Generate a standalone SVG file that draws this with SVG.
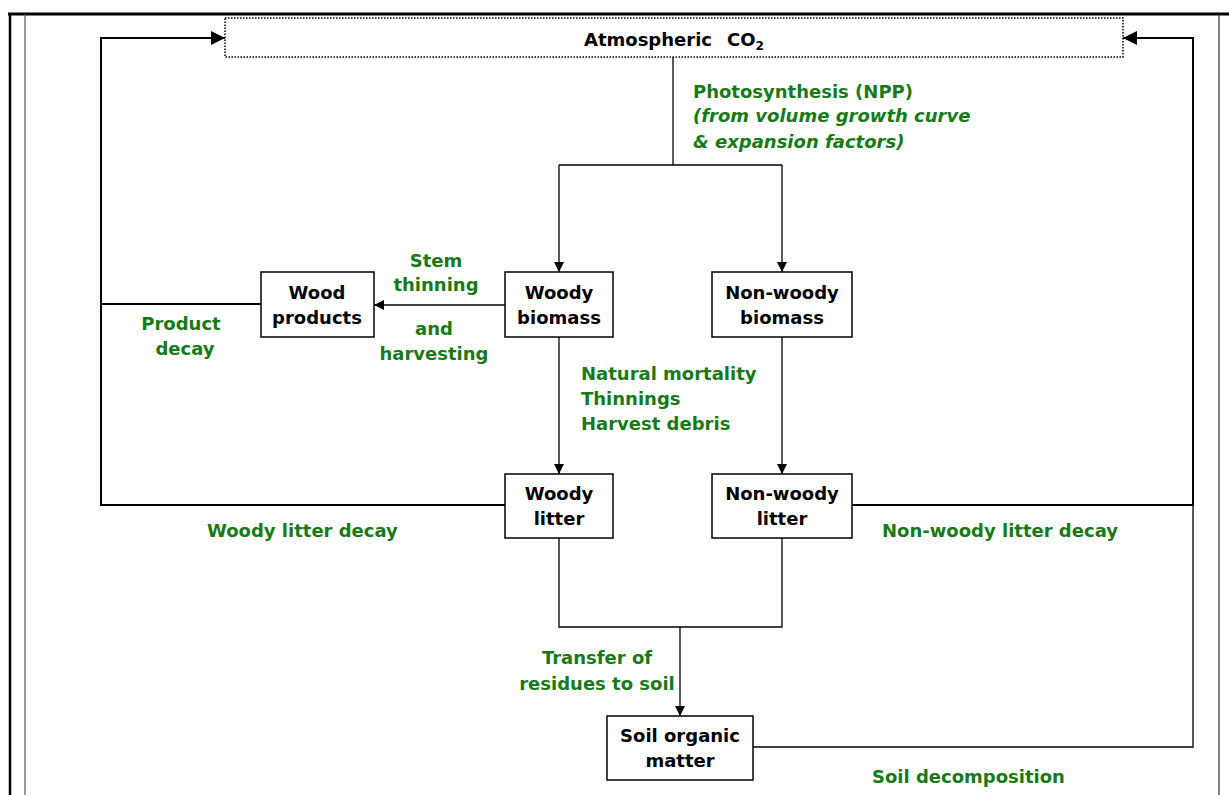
<svg xmlns="http://www.w3.org/2000/svg" width="1229" height="795" viewBox="0 0 1229 795">
<defs>
<marker id="ah" viewBox="0 0 10 10" refX="10" refY="5" markerWidth="10" markerHeight="10" markerUnits="userSpaceOnUse" orient="auto">
<path d="M0,0 L10,5 L0,10 z" fill="#000"/>
</marker>
<marker id="ahb" viewBox="0 0 14 14" refX="14" refY="7" markerWidth="14" markerHeight="14" markerUnits="userSpaceOnUse" orient="auto">
<path d="M0,0 L14,7 L0,14 z" fill="#000"/>
</marker>
</defs>
<style>
.box{fill:#fff;stroke:#000;stroke-width:1.5}
.t{font-family:"DejaVu Sans","Liberation Sans",sans-serif;font-weight:bold;font-size:18px;fill:#000}
.g{font-family:"DejaVu Sans","Liberation Sans",sans-serif;font-weight:bold;font-size:18px;fill:#177a17}
.c{text-anchor:middle}
.ln{fill:none;stroke:#000;stroke-width:1.3}
.lnb{fill:none;stroke:#000;stroke-width:2}
</style>
<rect width="1229" height="795" fill="#fff"/>
<g id="frame">
<line x1="8" y1="14" x2="1229" y2="14" stroke="#000" stroke-width="3"/>
<line x1="10" y1="14" x2="10" y2="795" stroke="#000" stroke-width="2.5"/>
<line x1="25" y1="14" x2="25" y2="795" stroke="#555" stroke-width="1.2"/>
<line x1="1219" y1="14" x2="1219" y2="795" stroke="#333" stroke-width="1.2"/>
</g>
<g id="connectors">
<path class="ln" d="M673,57 V165"/>
<path class="ln" d="M559,165 H782"/>
<path class="ln" d="M559,165 V272" marker-end="url(#ah)"/>
<path class="ln" d="M782,165 V272" marker-end="url(#ah)"/>
<path class="ln" d="M505,305 H374" marker-end="url(#ah)"/>
<path class="lnb" d="M261,304 H101 V38 H225" marker-end="url(#ahb)"/>
<path class="lnb" d="M505,505 H101 V300"/>
<path class="ln" d="M559,337 V474" marker-end="url(#ah)"/>
<path class="ln" d="M782,337 V474" marker-end="url(#ah)"/>
<path class="lnb" d="M852,505 H1193 V38 H1123" marker-end="url(#ahb)"/>
<path class="ln" d="M559,538 V627 H782 V538"/>
<path class="ln" d="M680,627 V716" marker-end="url(#ah)"/>
<path class="ln" d="M753,747 H1193 V500"/>
</g>
<g id="co2">
<rect x="225" y="18" width="898" height="39" fill="#fff" stroke="#000" stroke-width="1.5" stroke-dasharray="1.5,1.5"/>
<text class="t" x="584" y="46">Atmospheric</text>
<text class="t" x="727" y="46">CO<tspan font-size="12" dy="4">2</tspan></text>
</g>
<g id="wood-products">
<rect class="box" x="261" y="272" width="113" height="65"/>
<text class="t c" x="317" y="299">Wood</text>
<text class="t c" x="317" y="324">products</text>
</g>
<g id="woody-biomass">
<rect class="box" x="505" y="272" width="108" height="65"/>
<text class="t c" x="559" y="299">Woody</text>
<text class="t c" x="559" y="324">biomass</text>
</g>
<g id="nonwoody-biomass">
<rect class="box" x="712" y="272" width="140" height="65"/>
<text class="t c" x="782" y="299">Non-woody</text>
<text class="t c" x="782" y="324">biomass</text>
</g>
<g id="woody-litter">
<rect class="box" x="505" y="474" width="108" height="64"/>
<text class="t c" x="559" y="500">Woody</text>
<text class="t c" x="559" y="525">litter</text>
</g>
<g id="nonwoody-litter">
<rect class="box" x="712" y="474" width="140" height="64"/>
<text class="t c" x="782" y="500">Non-woody</text>
<text class="t c" x="782" y="525">litter</text>
</g>
<g id="soil">
<rect class="box" x="607" y="716" width="146" height="64"/>
<text class="t c" x="680" y="742">Soil organic</text>
<text class="t c" x="680" y="767">matter</text>
</g>
<g id="labels">
<text class="g" x="693" y="98">Photosynthesis (NPP)</text>
<text class="g" x="693" y="122" font-style="italic">(from volume growth curve</text>
<text class="g" x="693" y="148" font-style="italic">&amp; expansion factors)</text>
<text class="g c" x="436" y="267">Stem</text>
<text class="g c" x="436" y="291">thinning</text>
<text class="g c" x="434" y="335">and</text>
<text class="g c" x="434" y="360">harvesting</text>
<text class="g c" x="181" y="330">Product</text>
<text class="g c" x="185" y="355">decay</text>
<text class="g" x="581" y="380">Natural mortality</text>
<text class="g" x="581" y="405">Thinnings</text>
<text class="g" x="581" y="430">Harvest debris</text>
<text class="g" x="207" y="537">Woody litter decay</text>
<text class="g" x="882" y="537">Non-woody litter decay</text>
<text class="g c" x="597" y="664">Transfer of</text>
<text class="g c" x="597" y="690">residues to soil</text>
<text class="g" x="872" y="783">Soil decomposition</text>
</g>
</svg>
